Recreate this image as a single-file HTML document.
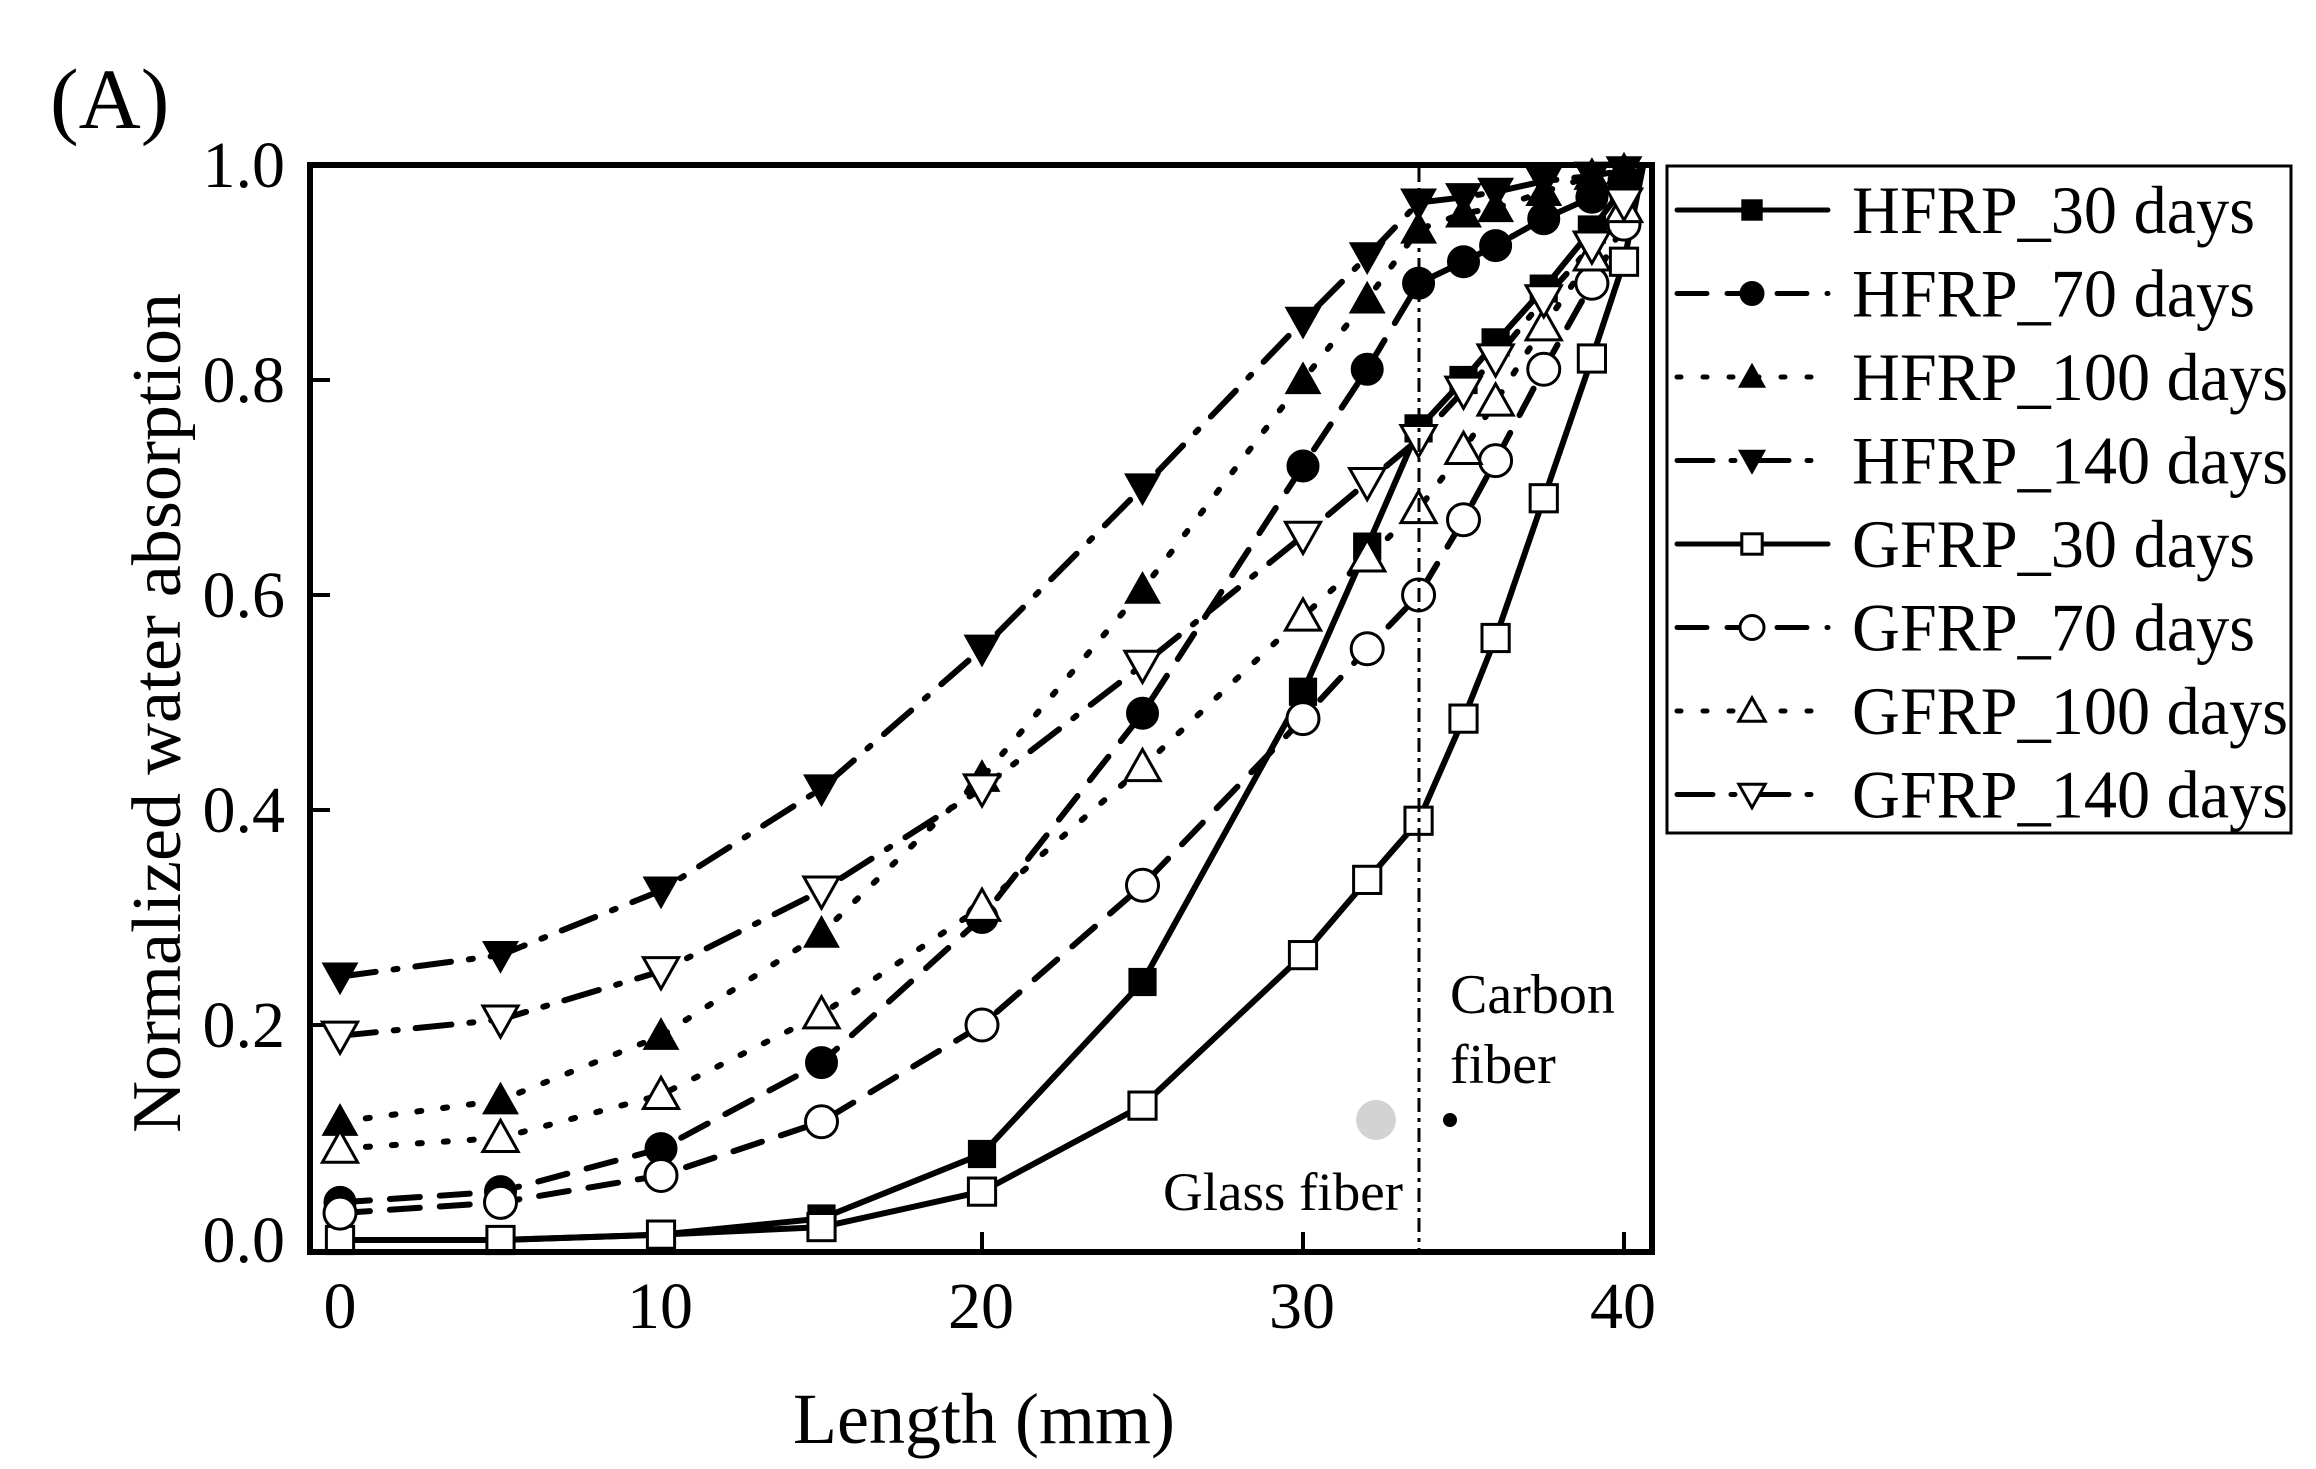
<!DOCTYPE html>
<html><head><meta charset="utf-8"><style>
html,body{margin:0;padding:0;background:#fff}
svg{display:block}
text{font-family:"Liberation Serif",serif;fill:#000}
</style></head><body>
<svg id="s" width="2316" height="1469" viewBox="0 0 2316 1469" xmlns="http://www.w3.org/2000/svg">
<rect width="2316" height="1469" fill="#fff"/>
<text x="50" y="128" font-size="86">(A)</text>
<g id="plot"></g>
<rect x="310" y="165" width="1342" height="1087" fill="none" stroke="#000" stroke-width="6"/>
<line x1="1419" y1="168" x2="1419" y2="1250" stroke="#000" stroke-width="3" stroke-dasharray="14,6,4,6"/>
<g font-size="66" text-anchor="end">
<text x="285" y="1262">0.0</text><text x="285" y="1047">0.2</text><text x="285" y="832">0.4</text>
<text x="285" y="617">0.6</text><text x="285" y="402">0.8</text><text x="285" y="187">1.0</text>
</g>
<g font-size="66" text-anchor="middle">
<text x="340" y="1328">0</text><text x="660" y="1328">10</text><text x="981" y="1328">20</text>
<text x="1302" y="1328">30</text><text x="1623" y="1328">40</text>
</g>
<text x="984" y="1443" font-size="72" text-anchor="middle">Length (mm)</text>
<text transform="translate(180,713) rotate(-90)" font-size="70" text-anchor="middle" textLength="840" lengthAdjust="spacingAndGlyphs">Normalized water absorption</text>
<text x="1403" y="1210" font-size="54" text-anchor="end" textLength="240" lengthAdjust="spacingAndGlyphs">Glass fiber</text>
<text x="1450" y="1013" font-size="56">Carbon</text>
<text x="1450" y="1083" font-size="56">fiber</text>
<circle cx="1376" cy="1120" r="20" fill="#d3d3d3"/>
<circle cx="1450" cy="1120" r="7" fill="#000"/>
<rect x="1667" y="166" width="624" height="667" fill="#fff" stroke="#000" stroke-width="3"/>
<g id="leg"></g>
</svg>
<script>
var NS="http://www.w3.org/2000/svg";
function X(v){return 340+v*32.1}
function Y(v){return 1240-v*1075}
var xs=[0,5,10,15,20,25,30,32,33.6,35,36,37.5,39,40,40.6];
var S=[
["HFRP_30 days","sq",1,"",[0,0,0.005,0.02,0.08,0.24,0.51,0.645,0.755,0.80,0.835,0.885,0.94,0.98,1]],
["HFRP_70 days","ci",1,"30,20",[0.035,0.045,0.085,0.165,0.30,0.49,0.72,0.81,0.89,0.91,0.925,0.95,0.97,0.985,1]],
["HFRP_100 days","tu",1,"4,22",[0.11,0.13,0.19,0.285,0.43,0.605,0.80,0.875,0.94,0.955,0.96,0.975,0.99,0.995,1]],
["HFRP_140 days","td",1,"36,18,4,18",[0.245,0.265,0.325,0.42,0.55,0.70,0.855,0.915,0.965,0.97,0.975,0.985,0.99,0.995,1]],
["GFRP_30 days","sq",0,"",[0,0,0.005,0.012,0.045,0.125,0.265,0.335,0.39,0.485,0.56,0.69,0.82,0.91,1]],
["GFRP_70 days","ci",0,"30,20",[0.025,0.035,0.06,0.11,0.20,0.33,0.485,0.55,0.60,0.67,0.725,0.81,0.89,0.945,1]],
["GFRP_100 days","tu",0,"4,22",[0.085,0.095,0.135,0.21,0.31,0.44,0.58,0.635,0.68,0.735,0.78,0.85,0.915,0.96,1]],
["GFRP_140 days","td",0,"36,18,4,18",[0.19,0.205,0.25,0.325,0.42,0.535,0.655,0.705,0.745,0.79,0.82,0.875,0.925,0.965,1]]];
function el(t,a,p){var e=document.createElementNS(NS,t);for(var k in a)e.setAttribute(k,a[k]);p.appendChild(e);return e}
function mk(type,fill,x,y,r,p){
 var f=fill?"#000":"#fff",w=fill?1:3;
 if(type=="sq")el("rect",{x:x-r*0.85,y:y-r*0.85,width:r*1.7,height:r*1.7,fill:f,stroke:"#000","stroke-width":w},p);
 else if(type=="ci")el("circle",{cx:x,cy:y,r:r,fill:f,stroke:"#000","stroke-width":w},p);
 else if(type=="tu")el("polygon",{points:(x-r*1.1)+","+(y+r*0.85)+" "+(x+r*1.1)+","+(y+r*0.85)+" "+x+","+(y-r*1.1),fill:f,stroke:"#000","stroke-width":w},p);
 else el("polygon",{points:(x-r*1.1)+","+(y-r*0.85)+" "+(x+r*1.1)+","+(y-r*0.85)+" "+x+","+(y+r*1.1),fill:f,stroke:"#000","stroke-width":w},p);
}
var P=document.getElementById("plot"),L=document.getElementById("leg");
[0,10,20,30,40].forEach(function(v){el("line",{x1:X(v),y1:1252,x2:X(v),y2:1232,stroke:"#000","stroke-width":4},P)});
[0.2,0.4,0.6,0.8].forEach(function(v){el("line",{x1:310,y1:Y(v),x2:330,y2:Y(v),stroke:"#000","stroke-width":4},P)});
S.forEach(function(s){
 var d=s[4].map(function(v,j){return (j?"L":"M")+X(xs[j]).toFixed(1)+","+Y(v).toFixed(1)}).join("");
 var a={d:d,fill:"none",stroke:"#000","stroke-width":6,"stroke-linecap":"round","stroke-linejoin":"round"};
 if(s[3])a["stroke-dasharray"]=s[3];
 el("path",a,P);
});
S.forEach(function(s){
 for(var j=0;j<14;j++)mk(s[1],s[2],X(xs[j]),Y(s[4][j]),16,P);
});
S.forEach(function(s,i){
 var y=210+i*83.5;
 var a={x1:1677,y1:y,x2:1828,y2:y,stroke:"#000","stroke-width":5,"stroke-linecap":"round"};
 if(s[3])a["stroke-dasharray"]=s[3];
 el("line",a,L);
 mk(s[1],s[2],1752,y,12,L);
 var w=s[0].indexOf("100")>0||s[0].indexOf("140")>0?436:403;
 var t=el("text",{x:1852,y:y+23,"font-size":68,textLength:w,lengthAdjust:"spacingAndGlyphs"},L);t.textContent=s[0];
});
</script>
</body></html>
